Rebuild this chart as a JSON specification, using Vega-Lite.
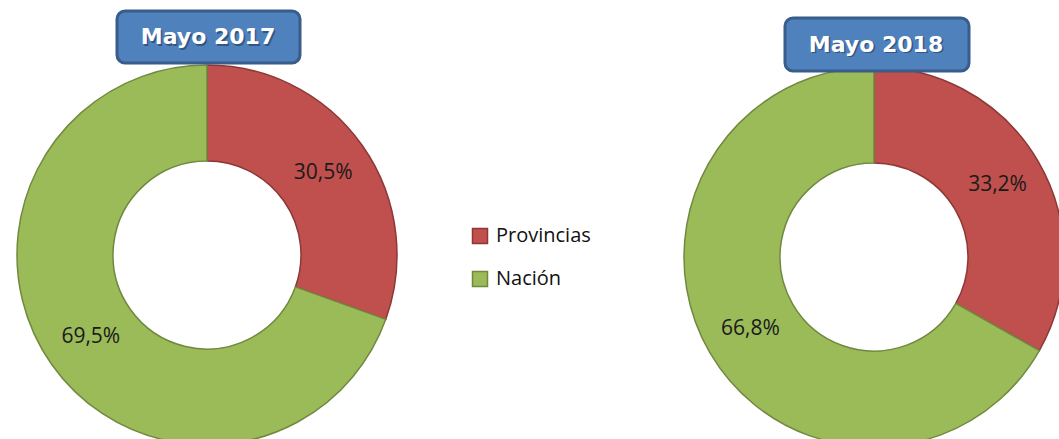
{
  "$schema": "https://vega.github.io/schema/vega-lite/v6.json",
  "padding": 0,
  "background": "white",
  "config": {
    "view": {"stroke": null},
    "locale": {"number": {"decimal": ",", "thousands": ".", "grouping": [3], "currency": ["", " €"]}},
    "legend": {
      "orient": "none",
      "legendX": 470,
      "legendY": 226,
      "symbolType": "square",
      "symbolSize": 225,
      "symbolStrokeWidth": 1.5,
      "labelFont": "Open Sans",
      "labelFontSize": 20,
      "labelColor": "#111111",
      "labelOffset": 6,
      "rowPadding": 21
    }
  },
  "data": {
    "values": [
      {"anio": "Mayo 2017", "categoria": "Provincias", "valor": 0.305, "orden": 1},
      {"anio": "Mayo 2017", "categoria": "Nación", "valor": 0.695, "orden": 2},
      {"anio": "Mayo 2018", "categoria": "Provincias", "valor": 0.332, "orden": 1},
      {"anio": "Mayo 2018", "categoria": "Nación", "valor": 0.668, "orden": 2}
    ]
  },
  "spacing": 260,
  "hconcat": [
    {
      "width": 414,
      "height": 439,
      "transform": [{"filter": "datum.anio === 'Mayo 2017'"}],
      "layer": [
        {
          "mark": {"type": "arc", "outerRadius": 190, "innerRadius": 94, "strokeWidth": 1.5},
          "encoding": {
            "x": {"datum": 0, "type": "quantitative", "scale": {"domain": [-207, 207], "nice": false, "zero": false}, "axis": null},
            "y": {"datum": 0, "type": "quantitative", "scale": {"domain": [-184, 255], "nice": false, "zero": false}, "axis": null},
            "theta": {"field": "valor", "type": "quantitative", "stack": true},
            "order": {"field": "orden", "type": "quantitative"},
            "color": {"field": "categoria", "type": "nominal", "title": null,
              "scale": {"domain": ["Provincias", "Nación"], "range": ["#C0504D", "#9BBB59"]}},
            "stroke": {"field": "categoria", "type": "nominal", "title": null,
              "scale": {"domain": ["Provincias", "Nación"], "range": ["#8C3836", "#71893F"]}}
          }
        },
        {
          "mark": {"type": "text", "radius": 142, "font": "Open Sans", "fontSize": 21, "color": "#1a1a1a", "align": "center", "baseline": "middle"},
          "encoding": {
            "x": {"datum": 0, "type": "quantitative"},
            "y": {"datum": 0, "type": "quantitative"},
            "theta": {"field": "valor", "type": "quantitative", "stack": true},
            "order": {"field": "orden", "type": "quantitative"},
            "text": {"field": "valor", "type": "quantitative", "format": ".1%"}
          }
        },
        {
          "data": {"values": [{"t": "Mayo 2017"}]},
          "mark": {"type": "rect", "cornerRadius": 8, "fill": "#4F81BD", "stroke": "#385D8A", "strokeWidth": 3},
          "encoding": {
            "x": {"datum": -90, "type": "quantitative"},
            "x2": {"datum": 93},
            "y": {"datum": 244, "type": "quantitative"},
            "y2": {"datum": 192}
          }
        },
        {
          "data": {"values": [{"t": "Mayo 2017"}]},
          "mark": {"type": "text", "dx": 1.5, "dy": 1.5, "font": "DejaVu Sans", "fontWeight": "bold", "fontSize": 22, "color": "#1f3a5c", "opacity": 0.6, "align": "center", "baseline": "middle"},
          "encoding": {
            "x": {"datum": 1, "type": "quantitative"},
            "y": {"datum": 218, "type": "quantitative"},
            "text": {"field": "t", "type": "nominal"}
          }
        },
        {
          "data": {"values": [{"t": "Mayo 2017"}]},
          "mark": {"type": "text", "font": "DejaVu Sans", "fontWeight": "bold", "fontSize": 22, "color": "#ffffff", "align": "center", "baseline": "middle"},
          "encoding": {
            "x": {"datum": 1, "type": "quantitative"},
            "y": {"datum": 218, "type": "quantitative"},
            "text": {"field": "t", "type": "nominal"}
          }
        }
      ]
    },
    {
      "width": 400,
      "height": 439,
      "transform": [{"filter": "datum.anio === 'Mayo 2018'"}],
      "layer": [
        {
          "mark": {"type": "arc", "outerRadius": 190, "innerRadius": 94, "strokeWidth": 1.5},
          "encoding": {
            "x": {"datum": 0, "type": "quantitative", "scale": {"domain": [-200, 200], "nice": false, "zero": false}, "axis": null},
            "y": {"datum": 0, "type": "quantitative", "scale": {"domain": [-182, 257], "nice": false, "zero": false}, "axis": null},
            "theta": {"field": "valor", "type": "quantitative", "stack": true},
            "order": {"field": "orden", "type": "quantitative"},
            "color": {"field": "categoria", "type": "nominal", "title": null,
              "scale": {"domain": ["Provincias", "Nación"], "range": ["#C0504D", "#9BBB59"]}},
            "stroke": {"field": "categoria", "type": "nominal", "title": null,
              "scale": {"domain": ["Provincias", "Nación"], "range": ["#8C3836", "#71893F"]}}
          }
        },
        {
          "mark": {"type": "text", "radius": 143, "font": "Open Sans", "fontSize": 21, "color": "#1a1a1a", "align": "center", "baseline": "middle"},
          "encoding": {
            "x": {"datum": 0, "type": "quantitative"},
            "y": {"datum": 0, "type": "quantitative"},
            "theta": {"field": "valor", "type": "quantitative", "stack": true},
            "order": {"field": "orden", "type": "quantitative"},
            "text": {"field": "valor", "type": "quantitative", "format": ".1%"}
          }
        },
        {
          "data": {"values": [{"t": "Mayo 2018"}]},
          "mark": {"type": "rect", "cornerRadius": 8, "fill": "#4F81BD", "stroke": "#385D8A", "strokeWidth": 3},
          "encoding": {
            "x": {"datum": -89, "type": "quantitative"},
            "x2": {"datum": 95},
            "y": {"datum": 239, "type": "quantitative"},
            "y2": {"datum": 186}
          }
        },
        {
          "data": {"values": [{"t": "Mayo 2018"}]},
          "mark": {"type": "text", "dx": 1.5, "dy": 1.5, "font": "DejaVu Sans", "fontWeight": "bold", "fontSize": 22, "color": "#1f3a5c", "opacity": 0.6, "align": "center", "baseline": "middle"},
          "encoding": {
            "x": {"datum": 2, "type": "quantitative"},
            "y": {"datum": 212.5, "type": "quantitative"},
            "text": {"field": "t", "type": "nominal"}
          }
        },
        {
          "data": {"values": [{"t": "Mayo 2018"}]},
          "mark": {"type": "text", "font": "DejaVu Sans", "fontWeight": "bold", "fontSize": 22, "color": "#ffffff", "align": "center", "baseline": "middle"},
          "encoding": {
            "x": {"datum": 2, "type": "quantitative"},
            "y": {"datum": 212.5, "type": "quantitative"},
            "text": {"field": "t", "type": "nominal"}
          }
        }
      ]
    }
  ]
}
